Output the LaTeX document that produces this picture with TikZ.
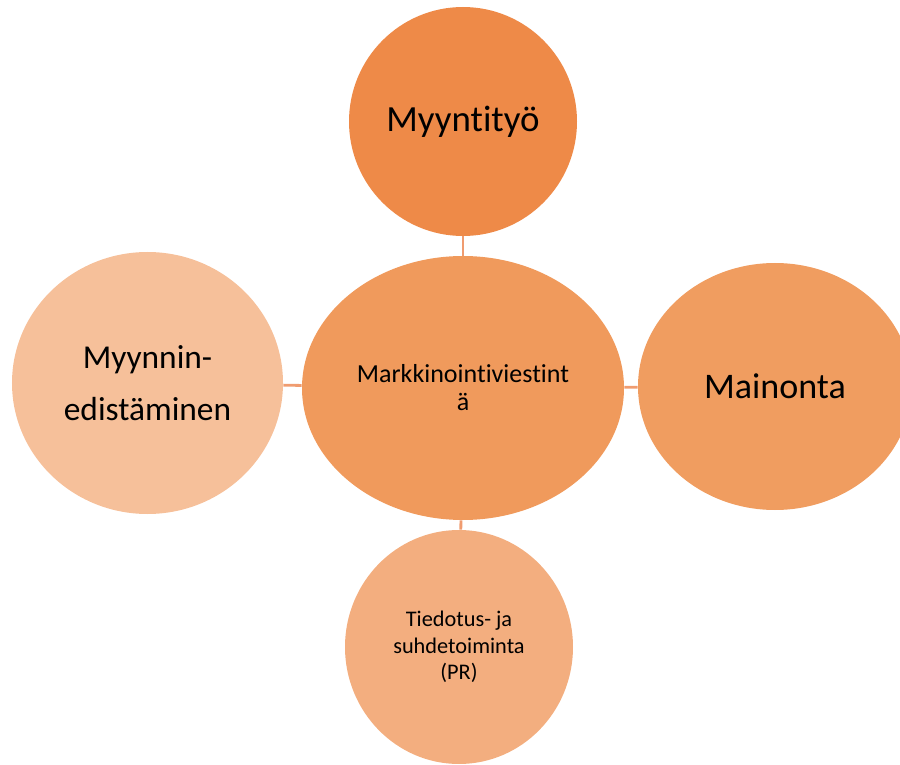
\documentclass[tikz,border=0pt]{standalone}
\usepackage{fontspec}
\setmainfont[Ligatures=NoCommon]{Carlito}
\usepackage{xcolor}
\usepackage{tikz}
\usetikzlibrary{shapes.geometric}

\definecolor{topfill}{HTML}{EE8A48}
\definecolor{midfill}{HTML}{F09A5C}
\definecolor{leftfill}{HTML}{F6C09A}
\definecolor{rightfill}{HTML}{F09D60}
\definecolor{lowfill}{HTML}{F3AE7F}
\definecolor{linkcol}{HTML}{F09C70}

\begin{document}
\begin{tikzpicture}[
  bubble/.style={
    ellipse,
    draw=none,
    inner sep=0pt,
    align=center,
    text=black
  },
  bigtext/.style={font=\fontsize{19}{29.5}\selectfont},
  link/.style={line width=1.6pt, draw=linkcol}
]
\clip (0,0) rectangle (18,-15.3);
\useasboundingbox (0,0) rectangle (18,-15.3);
\node[bubble, fill=topfill, minimum width=4.56cm, minimum height=4.58cm,
  font=\fontsize{21}{25}\selectfont] (sales) at (9.26,-2.43) {Myyntityö};
\node[bubble, fill=midfill, minimum width=6.44cm, minimum height=5.28cm,
  font=\fontsize{14.8}{16}\selectfont] (comm) at (9.26,-7.76) {Markkinointiviestint\\ä};
\node[bubble, fill=leftfill, minimum width=5.42cm, minimum height=5.24cm,
  bigtext] (promo) at (2.95,-7.66) {Myynnin-\\edistäminen};
\node[bubble, fill=rightfill, minimum width=5.48cm, minimum height=4.94cm,
  font=\fontsize{20.5}{24}\selectfont] (ads) at (15.5,-7.73) {Mainonta};
\node[bubble, fill=lowfill, minimum width=4.56cm, minimum height=4.68cm,
  font=\fontsize{12.7}{15}\selectfont] (pr) at (9.18,-12.94) {Tiedotus- ja\\suhdetoiminta\\(PR)};
\draw[link] (comm) -- (sales);
\draw[link] (comm) -- (promo);
\draw[link] (comm) -- (ads);
\draw[link] (comm) -- (pr);
\end{tikzpicture}
\end{document}
